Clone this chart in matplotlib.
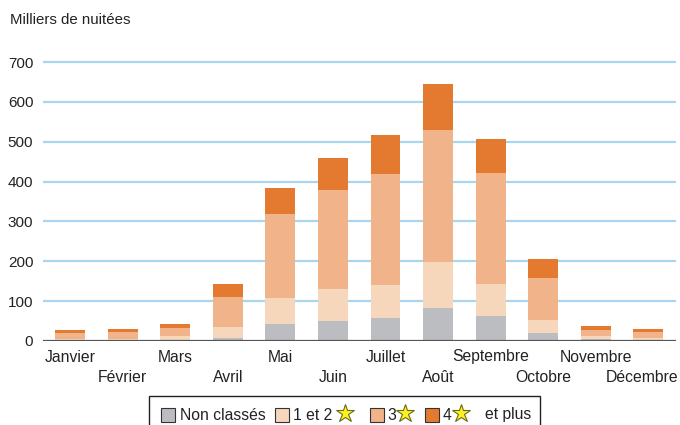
import matplotlib
matplotlib.use("Agg")
import matplotlib.pyplot as plt
from matplotlib.patches import Rectangle
from matplotlib.lines import Line2D
import numpy as np

plt.rcParams['font.family'] = ['Liberation Sans', 'DejaVu Sans']

months = ["Janvier", "Février", "Mars", "Avril", "Mai", "Juin", "Juillet",
          "Août", "Septembre", "Octobre", "Novembre", "Décembre"]
non_classes = [1, 1, 1, 7, 42, 50, 57, 82, 62, 20, 4, 2]
etoiles_1_2 = [4, 4, 11, 28, 66, 80, 83, 116, 81, 33, 8, 5]
etoiles_3 = [14, 17, 20, 75, 210, 248, 279, 332, 278, 105, 15, 15]
etoiles_4 = [8, 8, 10, 33, 65, 80, 97, 115, 86, 47, 10, 8]
yticks = [0, 100, 200, 300, 400, 500, 600, 700]
series_labels = ["Non classés", "1 et 2", "3", "4"]

colors = ["#bcbdc0", "#f7d7bc", "#f1b48a", "#e37a30"]

W, H = 680, 425
fig = plt.figure(figsize=(W / 100, H / 100), dpi=100)

def fx(px):
    return px / W

def fy(py):
    return 1 - py / H

ymax = 710
ppu = (341 - 62) / 700.0
top_px = 341 - ymax * ppu
ax = fig.add_axes([fx(43), fy(341), fx(676) - fx(43), (341 - top_px) / H])

x = np.arange(len(months))
bottom = np.zeros(len(months))
for vals, c in zip([non_classes, etoiles_1_2, etoiles_3, etoiles_4], colors):
    ax.bar(x, vals, width=0.57, bottom=bottom, color=c, zorder=3, linewidth=0)
    bottom += np.array(vals)

ax.set_xlim(-0.52, 11.53)
ax.set_ylim(0, ymax)
ax.set_yticks(yticks)
for t in yticks[1:]:
    ax.axhline(t, color="#a9d5ef", lw=1.6, zorder=1)
ax.axhline(0, color="#555555", lw=1.6, zorder=4)

for s in ax.spines.values():
    s.set_visible(False)
ax.tick_params(axis='y', length=0, pad=7, labelsize=11, colors="#222222")
ax.tick_params(axis='x', length=0)
ax.set_xticks([])

fs = 11.3
for i, m in enumerate(months):
    dy = -16 if i % 2 == 0 else -36
    dx = -6 if i == len(months) - 1 else 0
    ax.annotate(m, (i, 0), xytext=(dx, dy), textcoords='offset pixels',
                ha='center', va='center', fontsize=fs, color="#222222",
                annotation_clip=False)

fig.text(fx(10), fy(20), "Milliers de nuitées", fontsize=10.8, color="#222222",
         ha='left', va='center')

# legend box
fig.add_artist(Rectangle((fx(149), fy(440)), fx(540) - fx(149), fy(396) - fy(440),
                         transform=fig.transFigure, fill=False, edgecolor="#222222",
                         lw=1.0))
sq = 14
for xp, c in zip([161, 275, 370, 425], colors):
    fig.add_artist(Rectangle((fx(xp), fy(422)), fx(xp + sq) - fx(xp), fy(408) - fy(422),
                             transform=fig.transFigure, facecolor=c,
                             edgecolor="#333333", lw=0.8))
ty = 415
lfs = 11.3
fig.text(fx(180), fy(ty), series_labels[0], fontsize=lfs, ha='left', va='center', color="#222222")
fig.text(fx(293), fy(ty), series_labels[1], fontsize=lfs, ha='left', va='center', color="#222222")
fig.text(fx(387), fy(ty), series_labels[2], fontsize=lfs, ha='left', va='center', color="#222222")
fig.text(fx(443), fy(ty), series_labels[3], fontsize=lfs, ha='left', va='center', color="#222222")
fig.text(fx(485), fy(ty), "et plus", fontsize=lfs, ha='left', va='center', color="#222222")
for sx in [345, 405, 461]:
    fig.add_artist(Line2D([fx(sx)], [fy(413)], transform=fig.transFigure, marker='*',
                          markersize=13.5, markerfacecolor="#fff21a",
                          markeredgecolor="#6a6a20", markeredgewidth=0.8, linestyle='none'))

fig.savefig("out.png", dpi=100)
